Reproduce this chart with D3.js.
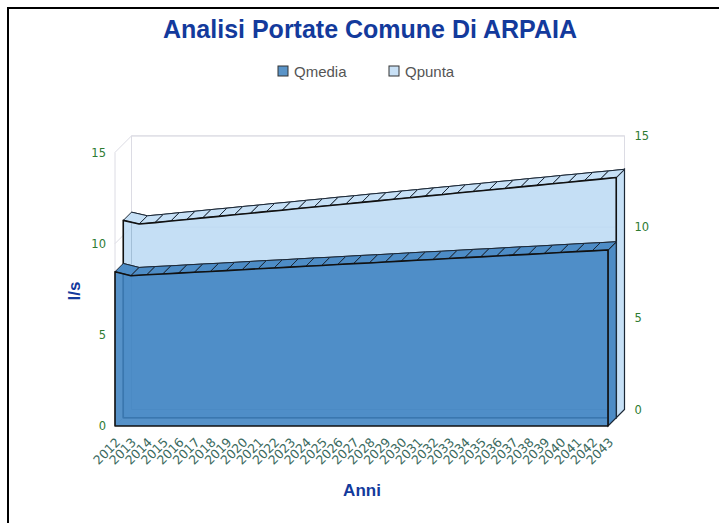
<!DOCTYPE html>
<html><head><meta charset="utf-8">
<script src="https://cdn.jsdelivr.net/npm/d3@7"></script>
<style>body{margin:0;background:#fff;}svg{display:block;font-family:"Liberation Sans",Arial,sans-serif;}</style>
</head><body>
<svg id="c" width="719" height="523"></svg>
<script>
const years = ["2012","2013","2014","2015","2016","2017","2018","2019","2020","2021","2022","2023","2024","2025","2026","2027","2028","2029","2030","2031","2032","2033","2034","2035","2036","2037","2038","2039","2040","2041","2042","2043"];
const qmedia = [8.46,8.24,8.29,8.33,8.38,8.43,8.47,8.52,8.57,8.62,8.66,8.71,8.76,8.80,8.85,8.90,8.94,8.99,9.04,9.09,9.13,9.18,9.23,9.27,9.32,9.37,9.41,9.46,9.51,9.56,9.60,9.65];
const qpunta = [10.82,10.62,10.70,10.79,10.87,10.96,11.04,11.13,11.21,11.30,11.38,11.47,11.55,11.64,11.72,11.81,11.89,11.98,12.06,12.15,12.23,12.32,12.40,12.49,12.57,12.66,12.74,12.83,12.91,13.00,13.08,13.17];
const yTicks = [0,5,10,15];
const seriesNames = ["Qmedia","Qpunta"];

const svg = d3.select("#c");
const x = d3.scalePoint().domain(years).range([115, 608]);
const y = d3.scaleLinear().domain([0,15]).range([426, 152.4]);
const D = 16.5, d = D/2;
const x0 = x(years[0]), xN = x(years[years.length-1]);

// border
svg.append("path").attr("d","M8,523 L8,8 L719,8").attr("fill","none").attr("stroke","#000").attr("stroke-width",2);

// title
svg.append("text").attr("x",370).attr("y",38).attr("text-anchor","middle")
  .attr("font-size",25).attr("font-weight","bold").attr("fill","#133a9c").text("Analisi Portate Comune Di ARPAIA");

// legend
const legCols = ["#5a94c8","#c8e0f5"];
const legX = [278, 389];
seriesNames.forEach((n,i)=>{
  svg.append("rect").attr("x",legX[i]).attr("y",66).attr("width",10).attr("height",10)
    .attr("fill",legCols[i]).attr("stroke","#333").attr("stroke-width",1);
  svg.append("text").attr("x",legX[i]+16).attr("y",76.5).attr("font-size",15).attr("fill","#555").text(n);
});

// walls & grid
const grid = svg.append("g").attr("stroke","#dcdce4").attr("fill","none").attr("stroke-width",1);
grid.append("rect").attr("x",x0+D).attr("y",y(15)-D).attr("width",xN-x0).attr("height",y(0)-y(15));
yTicks.forEach(v=>{
  grid.append("line").attr("x1",x0+D).attr("x2",xN+D).attr("y1",y(v)-D).attr("y2",y(v)-D);
  grid.append("line").attr("x1",x0).attr("y1",y(v)).attr("x2",x0+D).attr("y2",y(v)-D);
});
grid.append("line").attr("x1",x0).attr("x2",x0).attr("y1",y(0)).attr("y2",y(15));

// axes
const axL = svg.append("g").attr("transform",`translate(${x0},0)`)
  .call(d3.axisLeft(y).tickValues(yTicks).tickSize(0).tickPadding(9));
const axR = svg.append("g").attr("transform",`translate(${xN+D},${-D})`)
  .call(d3.axisRight(y).tickValues(yTicks).tickSize(0).tickPadding(10));
[axL,axR].forEach(a=>{
  a.select(".domain").remove();
  a.selectAll("text").attr("font-size",11.5).attr("fill","#2e7b32").attr("font-family","DejaVu Sans, Verdana, sans-serif");
});

// x labels
const xl = svg.append("g");
years.forEach(yr=>{
  xl.append("text").attr("transform",`translate(${x(yr)+3},${440}) rotate(-45)`)
    .attr("text-anchor","end").attr("dy","0.35em").attr("font-size",12.5)
    .attr("font-family","DejaVu Sans, Verdana, sans-serif").attr("fill","#3b6a5e").text(yr);
});

// axis titles
svg.append("text").attr("transform","translate(80,291) rotate(-90)").attr("text-anchor","middle")
  .attr("font-size",17).attr("font-weight","bold").attr("fill","#133a9c").text("l/s");
svg.append("text").attr("x",362).attr("y",496).attr("text-anchor","middle")
  .attr("font-size",17).attr("font-weight","bold").attr("fill","#133a9c").text("Anni");

// series drawing
function drawSeries(vals, o1, o2, fill, op, strip){
  const g = svg.append("g");
  const P = (i,o)=>[x(years[i])+o, y(vals[i])-o];
  const n = vals.length;
  const areaPts = o => { const pts=[]; for(let i=0;i<n;i++) pts.push(P(i,o)); pts.push([xN+o,y(0)-o]); pts.push([x0+o,y(0)-o]); return pts; };
  const line = d3.line();
  // back face outline
  g.append("path").attr("d",line(areaPts(o2))+"Z").attr("fill","none")
    .attr("stroke","#1c2836").attr("stroke-width",1);
  // right side
  g.append("path").attr("d",line([[xN+o1,y(vals[n-1])-o1],[xN+o2,y(vals[n-1])-o2],[xN+o2,y(0)-o2],[xN+o1,y(0)-o1]])+"Z")
    .attr("fill",strip).attr("stroke","#1c2836").attr("stroke-width",1.2);
  // top strips
  for(let i=0;i<n-1;i++){
    g.append("path").attr("d",line([P(i,o1),P(i+1,o1),P(i+1,o2),P(i,o2)])+"Z")
      .attr("fill",strip).attr("stroke","#1c2836").attr("stroke-width",1);
  }
  // front face
  g.append("path").attr("d",line(areaPts(o1))+"Z").attr("fill",fill).attr("fill-opacity",op)
    .attr("stroke","#111").attr("stroke-width",1.6).attr("stroke-linejoin","round");
}
drawSeries(qpunta, d, D, "#bbd9f3", 0.85, "#c6e0f6");
drawSeries(qmedia, 0, d, "#3f83c1", 0.88, "#4d8cc6");
</script>
</body></html>
